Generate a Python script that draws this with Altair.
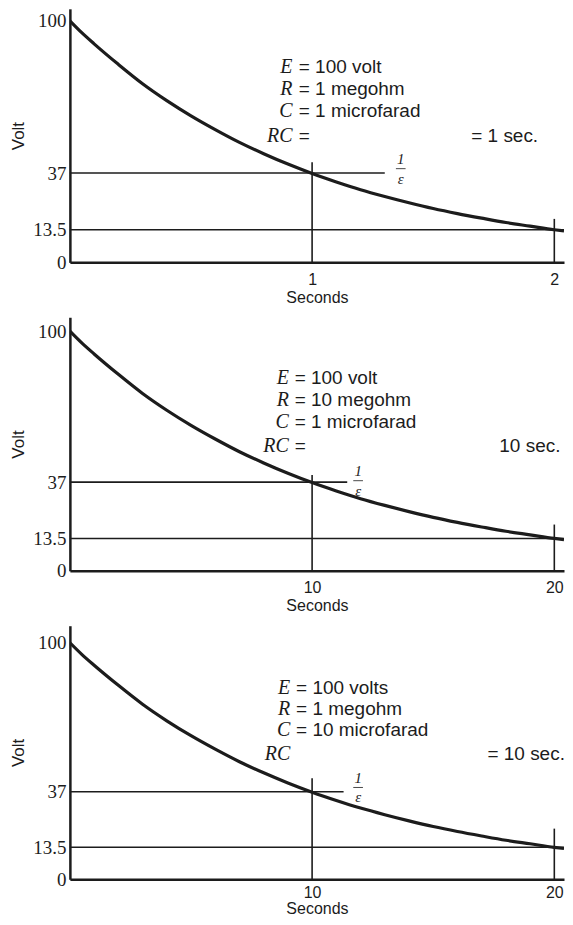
import altair as alt
import pandas as pd

# ---------------- data ----------------
# Panel 1 (RC = 1 s)
p1_t = [0, 0.05, 0.1, 0.2, 0.3, 0.4, 0.5, 0.6, 0.7, 0.8, 0.9, 1.0, 1.1, 1.2, 1.3, 1.4, 1.5, 1.6, 1.7, 1.8, 1.9, 2.0, 2.04]
p1_v = [100, 95, 90.5, 82, 74, 67, 60.7, 55, 49.7, 45, 40.7, 36.8, 33.3, 30.1, 27.3, 24.7, 22.3, 20.2, 18.3, 16.5, 15, 13.5, 13]
# Panel 2 (RC = 10 s)
p2_t = [0, 0.5, 1, 2, 3, 4, 5, 6, 7, 8, 9, 10, 11, 12, 13, 14, 15, 16, 17, 18, 19, 20, 20.4]
p2_v = [100, 95, 90.5, 82, 74, 67, 60.7, 55, 49.7, 45, 40.7, 36.8, 33.3, 30.1, 27.3, 24.7, 22.3, 20.2, 18.3, 16.5, 15, 13.5, 13]
# Panel 3 (RC = 10 s)
p3_t = [0, 0.5, 1, 2, 3, 4, 5, 6, 7, 8, 9, 10, 11, 12, 13, 14, 15, 16, 17, 18, 19, 20, 20.4]
p3_v = [100, 95, 90.5, 82, 74, 67, 60.7, 55, 49.7, 45, 40.7, 36.8, 33.3, 30.1, 27.3, 24.7, 22.3, 20.2, 18.3, 16.5, 15, 13.5, 13]

y_ticks = [0, 13.5, 37, 100]
p1_xticks = [1, 2]
p2_xticks = [10, 20]
p3_xticks = [10, 20]

# reference lines: horizontal (y, x_end) and vertical (x, y_top)
p1_hlines = [(37, 1.30), (13.5, 2.04)]
p1_vlines = [(1, 41.5), (2, 18)]
p2_hlines = [(37, 11.45), (13.5, 20.4)]
p2_vlines = [(10, 40), (20, 19.3)]
p3_hlines = [(37, 11.3), (13.5, 20.4)]
p3_vlines = [(10, 42.7), (20, 21.4)]

# 1/e label (x, y of "1", y of bar, y of "e", bar half width)
p1_frac = (1.366, 42.8, 38.8, 34.6, 0.02)
p2_frac = (11.9, 41.6, 37.6, 33.4, 0.2)
p3_frac = (11.9, 42.8, 38.8, 34.6, 0.2)

ann_letters = ["E", "R", "C", "RC"]
p1_ann_rest = ["= 100 volt", "= 1 megohm", "= 1 microfarad", "="]
p2_ann_rest = ["= 100 volt", "= 10 megohm", "= 1 microfarad", "="]
p3_ann_rest = ["= 100 volts", "= 1 megohm", "= 10 microfarad", ""]
p1_ann = dict(xl=0.919, xr=0.945, ys=[80.7, 71.7, 62.8, 52.4], sec="= 1 sec.", xs=1.657)
p2_ann = dict(xl=9.04, xr=9.28, ys=[80.3, 71.2, 61.9, 52], sec="10 sec.", xs=17.73)
p3_ann = dict(xl=9.1, xr=9.34, ys=[80.9, 71.9, 62.9, 53], sec="= 10 sec.", xs=17.24)

INK = "#1c1c1c"
SANS = "Liberation Sans"
SERIF = "Liberation Serif"


def panel(t, v, xmax, ymax, height, xticks, hlines, vlines, frac, rest, ann, lpad, tpad):
    xs = alt.Scale(domain=[0, xmax], nice=False, zero=True)
    ys = alt.Scale(domain=[0, ymax], nice=False, zero=True)
    xax = alt.Axis(
        values=xticks, labelExpr="'' + datum.value", title="Seconds", grid=False,
        ticks=False, domainColor=INK, domainWidth=2.5, labelFont=SANS,
        labelFontSize=16, labelColor=INK, labelPadding=lpad, titleFont=SANS,
        titleFontSize=16, titleFontWeight="normal", titleColor=INK, titlePadding=tpad)
    yax = alt.Axis(
        values=y_ticks, labelExpr="'' + datum.value", title="Volt", grid=False,
        ticks=False, domainColor=INK, domainWidth=2.5, labelFont=SERIF,
        labelFontSize=19, labelColor=INK, labelPadding=4, titleFont=SANS,
        titleFontSize=17, titleFontWeight="normal", titleColor=INK, titleX=-51,
        titleBaseline="middle")

    def X(f):
        return alt.X(f, scale=xs, axis=xax, title="Seconds")

    def Y(f):
        return alt.Y(f, scale=ys, axis=yax, title="Volt")

    curve = pd.DataFrame({"t": t, "v": v})
    base_line = alt.Chart(curve).mark_line(
        color=INK, strokeWidth=3.2, interpolate="monotone", clip=True
    ).encode(x=X("t:Q"), y=Y("v:Q"))

    hdf = pd.DataFrame({"y": [h[0] for h in hlines], "x0": [0] * len(hlines),
                        "x1": [h[1] for h in hlines]})
    hr = alt.Chart(hdf).mark_rule(color=INK, strokeWidth=1.6).encode(
        x=X("x0:Q"), x2="x1:Q", y=Y("y:Q"))

    vdf = pd.DataFrame({"x": [q[0] for q in vlines], "y0": [0] * len(vlines),
                        "y1": [q[1] for q in vlines]})
    vr = alt.Chart(vdf).mark_rule(color=INK, strokeWidth=1.6).encode(
        x=X("x:Q"), y=Y("y0:Q"), y2="y1:Q")

    fx, fy1, fyb, fy2, fw = frac
    fdf = pd.DataFrame({"x": [fx, fx], "y": [fy1, fy2], "s": ["1", "ε"]})
    ftxt = alt.Chart(fdf).mark_text(font=SERIF, fontSize=15, fontStyle="italic",
                                    color=INK, baseline="middle").encode(
        x=X("x:Q"), y=Y("y:Q"), text="s:N")
    fbar = alt.Chart(pd.DataFrame({"a": [fx - fw], "b": [fx + fw], "y": [fyb]})).mark_rule(
        color=INK, strokeWidth=0.8).encode(x=X("a:Q"), x2="b:Q", y=Y("y:Q"))

    ldf = pd.DataFrame({"x": [ann["xl"]] * 4, "y": ann["ys"], "s": ann_letters})
    letters = alt.Chart(ldf).mark_text(font=SERIF, fontSize=20, fontStyle="italic",
                                       align="right", baseline="middle", color=INK).encode(
        x=X("x:Q"), y=Y("y:Q"), text="s:N")
    rdf = pd.DataFrame({"x": [ann["xr"]] * 4, "y": ann["ys"], "s": rest})
    rests = alt.Chart(rdf).mark_text(font=SANS, fontSize=19, align="left",
                                     baseline="middle", color=INK).encode(
        x=X("x:Q"), y=Y("y:Q"), text="s:N")
    sdf = pd.DataFrame({"x": [ann["xs"]], "y": [ann["ys"][3]], "s": [ann["sec"]]})
    sec = alt.Chart(sdf).mark_text(font=SANS, fontSize=19, align="left",
                                   baseline="middle", color=INK).encode(
        x=X("x:Q"), y=Y("y:Q"), text="s:N")

    return alt.layer(hr, vr, base_line, ftxt, fbar, letters, rests, sec).properties(
        width=495, height=height)


c1 = panel(p1_t, p1_v, 2.04, 105, 254, p1_xticks, p1_hlines, p1_vlines, p1_frac,
           p1_ann_rest, p1_ann, 9, 2)
c2 = panel(p2_t, p2_v, 20.4, 105.8, 254, p2_xticks, p2_hlines, p2_vlines, p2_frac,
           p2_ann_rest, p2_ann, 9, 2)
c3 = panel(p3_t, p3_v, 20.4, 107.2, 254, p3_xticks, p3_hlines, p3_vlines, p3_frac,
           p3_ann_rest, p3_ann, 5, 0)

chart = alt.vconcat(c1, c2, c3, spacing=55, bounds="flush").properties(
    padding={"left": 2, "top": 0, "right": 0, "bottom": 0},
    background="white",
).configure_view(stroke=None)

chart.save("out.html", embed_options={"renderer": "svg", "actions": False})
